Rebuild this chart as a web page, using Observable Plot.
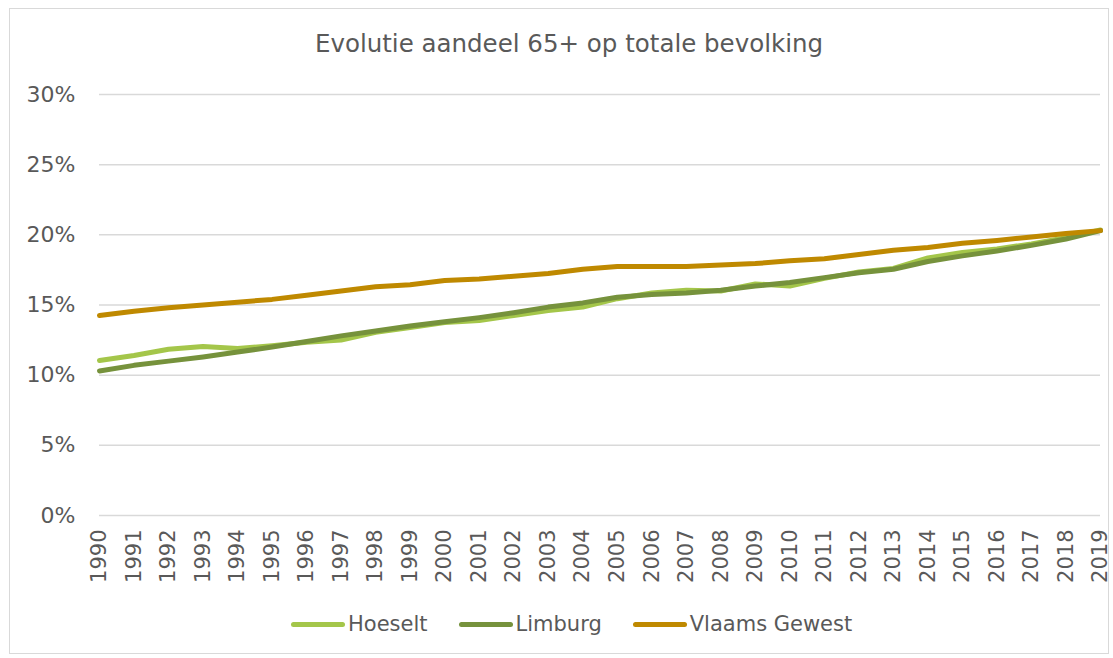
<!DOCTYPE html>
<html><head><meta charset="utf-8">
<script src="https://cdn.jsdelivr.net/npm/d3@7"></script>
<script src="https://cdn.jsdelivr.net/npm/@observablehq/plot@0.6"></script>
<style>
body{margin:0;background:#fff;font-family:"DejaVu Sans",sans-serif;color:#595959;}
#frame{position:relative;width:1113px;height:658px;overflow:hidden;background:#fff;}
#border{position:absolute;left:9px;top:8px;width:1100px;height:646px;border:1px solid #d9d9d9;box-sizing:border-box;}
#title{position:absolute;top:29px;left:0;width:1138px;text-align:center;font-size:24.5px;line-height:30px;white-space:nowrap;}
#chart{position:absolute;left:0;top:70px;}
#legend{position:absolute;top:611px;left:291px;display:flex;align-items:center;font-size:21px;line-height:26px;white-space:nowrap;}
.item{display:flex;align-items:center;margin-right:31px;}
.sw{width:54px;height:5px;border-radius:3px;margin-right:3px;}
</style>
</head><body>
<div id="frame">
<div id="border"></div>
<div id="title">Evolutie aandeel 65+ op totale bevolking</div>
<div id="chart"></div>
<div id="legend"></div>
</div>
<script>
const years = [1990,1991,1992,1993,1994,1995,1996,1997,1998,1999,2000,2001,2002,2003,2004,2005,2006,2007,2008,2009,2010,2011,2012,2013,2014,2015,2016,2017,2018,2019];
const hoeselt = [11.05,11.4,11.85,12.05,11.9,12.1,12.35,12.5,13.05,13.4,13.75,13.9,14.25,14.6,14.85,15.45,15.85,16.05,16.0,16.5,16.35,16.9,17.35,17.6,18.35,18.75,19.0,19.35,19.8,20.35];
const limburg = [10.3,10.7,11.0,11.3,11.65,12.0,12.4,12.8,13.15,13.5,13.8,14.1,14.45,14.85,15.15,15.55,15.75,15.85,16.05,16.35,16.6,16.95,17.3,17.55,18.1,18.5,18.85,19.25,19.7,20.3];
const vlaams = [14.25,14.55,14.8,15.0,15.2,15.4,15.7,16.0,16.3,16.45,16.75,16.85,17.05,17.25,17.55,17.75,17.75,17.75,17.85,17.95,18.15,18.3,18.6,18.9,19.1,19.4,19.6,19.85,20.1,20.3];
const seriesNames = ["Hoeselt","Limburg","Vlaams Gewest"];
const seriesColors = ["#a4c64a","#76923c","#bf8900"];
const yTicks = [0,0.05,0.10,0.15,0.20,0.25,0.30];

const seriesValues = [hoeselt, limburg, vlaams];
const data = [];
seriesNames.forEach((name, s) => {
  years.forEach((yr, i) => data.push({series: name, year: yr, value: seriesValues[s][i] / 100}));
});

const chart = Plot.plot({
  width: 1113,
  height: 530,
  marginLeft: 99,
  marginRight: 13,
  marginTop: 24,
  marginBottom: 85,
  style: {fontFamily: '"DejaVu Sans", sans-serif', fontSize: "21px", color: "#595959", background: "transparent"},
  x: {type: "point", domain: years, padding: 0, round: false, label: null},
  y: {domain: [0, 0.30], label: null},
  color: {domain: seriesNames, range: seriesColors},
  marks: [
    Plot.ruleY(yTicks, {stroke: "#d9d9d9", strokeWidth: 1.5, strokeOpacity: 1}),
    Plot.axisY({ticks: yTicks, tickFormat: d3.format(".0%"), tickSize: 0, tickPadding: 24, label: null, fontSize: 22}),
    Plot.axisX({tickRotate: -90, tickSize: 0, tickPadding: 14, label: null, tickFormat: d => String(d), fontSize: 21}),
    Plot.line(data, {x: "year", y: "value", z: "series", stroke: "series", strokeWidth: 5, strokeLinejoin: "round", strokeLinecap: "round"})
  ]
});
document.getElementById("chart").appendChild(chart);

const legend = document.getElementById("legend");
seriesNames.forEach((name, i) => {
  const it = document.createElement("div");
  it.className = "item";
  const sw = document.createElement("div");
  sw.className = "sw";
  sw.style.background = seriesColors[i];
  const tx = document.createElement("span");
  tx.textContent = name;
  it.appendChild(sw); it.appendChild(tx);
  legend.appendChild(it);
});
</script>
</body></html>
